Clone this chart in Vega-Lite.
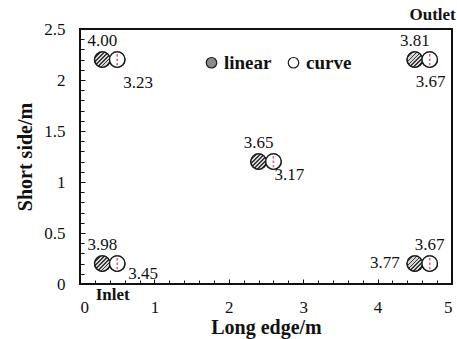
{
  "$schema": "https://vega.github.io/schema/vega-lite/v6.json",
  "width": 372,
  "height": 255,
  "autosize": "none",
  "padding": {"left": 80, "top": 29, "right": 5, "bottom": 55},
  "background": "white",
  "config": {
    "view": {"stroke": "#111", "strokeWidth": 2},
    "font": "Liberation Serif",
    "text": {"font": "Liberation Serif"},
    "legend": {"labelFont": "Liberation Serif"},
    "axis": {"grid": false, "domain": false, "tickColor": "#111", "labelColor": "#111", "titleColor": "#111", "labelFont": "Liberation Serif", "titleFont": "Liberation Serif"}
  },
  "data": {
    "values": [
      {"x": 0.3, "y": 0.2, "series": "linear", "v": "3.98", "pos": "above"},
      {"x": 0.3, "y": 2.2, "series": "linear", "v": "4.00", "pos": "above"},
      {"x": 2.4, "y": 1.2, "series": "linear", "v": "3.65", "pos": "above"},
      {"x": 4.5, "y": 2.2, "series": "linear", "v": "3.81", "pos": "above"},
      {"x": 4.5, "y": 0.2, "series": "linear", "v": "3.77", "pos": "left"},
      {"x": 0.5, "y": 0.2, "series": "curve", "v": "3.45", "pos": "r1"},
      {"x": 0.5, "y": 2.2, "series": "curve", "v": "3.23", "pos": "br"},
      {"x": 2.6, "y": 1.2, "series": "curve", "v": "3.17", "pos": "r2"},
      {"x": 4.7, "y": 2.2, "series": "curve", "v": "3.67", "pos": "below"},
      {"x": 4.7, "y": 0.2, "series": "curve", "v": "3.67", "pos": "above"}
    ]
  },
  "resolve": {"axis": {"x": "independent", "y": "independent"}},
  "layer": [
    {
      "mark": {"type": "point", "shape": "circle", "filled": true, "size": 240, "stroke": "#1a1a1a", "strokeWidth": 1.4, "opacity": 1},
      "encoding": {
        "x": {"field": "x", "type": "quantitative", "scale": {"domain": [0, 5], "nice": false, "zero": false},
          "axis": {"values": [0, 1, 2, 3, 4, 5], "tickSize": -5, "labelPadding": 20, "labelFontSize": 17, "format": "~g", "title": "Long edge/m", "titleFontSize": 20, "titleFontWeight": "bold", "titlePadding": 2, "orient": "bottom"}},
        "y": {"field": "y", "type": "quantitative", "scale": {"domain": [0, 2.5], "nice": false, "zero": false},
          "axis": {"values": [0, 0.5, 1, 1.5, 2, 2.5], "tickSize": -5, "labelPadding": 20, "labelFontSize": 17, "format": "~g", "title": "Short side/m", "titleFontSize": 20, "titleFontWeight": "bold", "titlePadding": 8, "orient": "left"}},
        "fill": {"field": "series", "type": "nominal", "sort": ["linear", "curve"],
          "scale": {"domain": ["linear", "curve"], "range": ["#8a8a8a", "#ffffff"]},
          "legend": {"orient": "none", "legendX": 122, "legendY": 24, "direction": "horizontal", "title": null, "padding": 0,
            "labelFontSize": 19, "labelFontWeight": "bold", "labelColor": "#111",
            "symbolSize": 110, "symbolStrokeColor": "#1a1a1a", "symbolStrokeWidth": 1.2, "symbolType": "circle", "columnPadding": 12, "labelOffset": 3,
            "encode": {"symbols": {"fill": {"value": {"expr": "datum.value === 'linear' ? {gradient: 'linear', x1: 0, y1: 0, x2: 1, y2: 1, stops: [{offset: 0, color: '#d6d6d6'}, {offset: 0.14, color: '#d6d6d6'}, {offset: 0.14, color: '#3a3a3a'}, {offset: 0.22, color: '#3a3a3a'}, {offset: 0.22, color: '#d6d6d6'}, {offset: 0.34, color: '#d6d6d6'}, {offset: 0.34, color: '#3a3a3a'}, {offset: 0.42, color: '#3a3a3a'}, {offset: 0.42, color: '#d6d6d6'}, {offset: 0.54, color: '#d6d6d6'}, {offset: 0.54, color: '#3a3a3a'}, {offset: 0.62, color: '#3a3a3a'}, {offset: 0.62, color: '#d6d6d6'}, {offset: 0.74, color: '#d6d6d6'}, {offset: 0.74, color: '#3a3a3a'}, {offset: 0.82, color: '#3a3a3a'}, {offset: 0.82, color: '#d6d6d6'}, {offset: 1, color: '#d6d6d6'}]} : '#ffffff'"}}}}}}
      }
    },
    {
      "transform": [{"filter": "datum.series === 'linear'"}],
      "mark": {"type": "point", "shape": "circle", "filled": true, "size": 240, "stroke": "#1a1a1a", "strokeWidth": 1.4, "opacity": 1,
        "fill": {"gradient": "linear", "x1": 0, "y1": 0, "x2": 1, "y2": 1, "stops": [
              {"offset": 0, "color": "#d6d6d6"}, {"offset": 0.05, "color": "#d6d6d6"},
              {"offset": 0.05, "color": "#3a3a3a"}, {"offset": 0.1, "color": "#3a3a3a"},
              {"offset": 0.1, "color": "#d6d6d6"}, {"offset": 0.175, "color": "#d6d6d6"},
              {"offset": 0.175, "color": "#3a3a3a"}, {"offset": 0.225, "color": "#3a3a3a"},
              {"offset": 0.225, "color": "#d6d6d6"}, {"offset": 0.3, "color": "#d6d6d6"},
              {"offset": 0.3, "color": "#3a3a3a"}, {"offset": 0.35, "color": "#3a3a3a"},
              {"offset": 0.35, "color": "#d6d6d6"}, {"offset": 0.425, "color": "#d6d6d6"},
              {"offset": 0.425, "color": "#3a3a3a"}, {"offset": 0.475, "color": "#3a3a3a"},
              {"offset": 0.475, "color": "#d6d6d6"}, {"offset": 0.55, "color": "#d6d6d6"},
              {"offset": 0.55, "color": "#3a3a3a"}, {"offset": 0.6, "color": "#3a3a3a"},
              {"offset": 0.6, "color": "#d6d6d6"}, {"offset": 0.675, "color": "#d6d6d6"},
              {"offset": 0.675, "color": "#3a3a3a"}, {"offset": 0.725, "color": "#3a3a3a"},
              {"offset": 0.725, "color": "#d6d6d6"}, {"offset": 0.8, "color": "#d6d6d6"},
              {"offset": 0.8, "color": "#3a3a3a"}, {"offset": 0.85, "color": "#3a3a3a"},
              {"offset": 0.85, "color": "#d6d6d6"}, {"offset": 0.925, "color": "#d6d6d6"},
              {"offset": 0.925, "color": "#3a3a3a"}, {"offset": 0.975, "color": "#3a3a3a"},
              {"offset": 0.975, "color": "#d6d6d6"}, {"offset": 1, "color": "#d6d6d6"}
            ]}},
      "encoding": {"x": {"field": "x", "type": "quantitative", "axis": null}, "y": {"field": "y", "type": "quantitative", "axis": null}}
    },
    {
      "transform": [{"filter": "datum.series === 'curve'"}],
      "mark": {"type": "point", "shape": "circle", "filled": true, "size": 240, "stroke": "#1a1a1a", "strokeWidth": 1.4, "opacity": 1, "fill": "#ffffff"},
      "encoding": {"x": {"field": "x", "type": "quantitative", "axis": null}, "y": {"field": "y", "type": "quantitative", "axis": null}}
    },
    {
      "transform": [{"filter": "datum.series === 'curve'"}],
      "mark": {"type": "point", "shape": "M0,-0.72L0,0.72", "filled": false, "size": 240, "stroke": "#c2185b", "strokeWidth": 1.5, "strokeDash": [2.5, 2]},
      "encoding": {
        "x": {"field": "x", "type": "quantitative", "axis": {"values": [0.2, 0.4, 0.6, 0.8, 1.2, 1.4, 1.6, 1.8, 2.2, 2.4, 2.6, 2.8, 3.2, 3.4, 3.6, 3.8, 4.2, 4.4, 4.6, 4.8], "tickSize": -4, "labels": false, "title": null, "orient": "bottom"}},
        "y": {"field": "y", "type": "quantitative", "axis": {"values": [0.1, 0.2, 0.3, 0.4, 0.6, 0.7, 0.8, 0.9, 1.1, 1.2, 1.3, 1.4, 1.6, 1.7, 1.8, 1.9, 2.1, 2.2, 2.3, 2.4], "tickSize": -4, "labels": false, "title": null, "orient": "left"}}
      }
    },
    {
      "transform": [{"filter": "datum.pos === 'above'"}],
      "mark": {"type": "text", "fontSize": 17, "color": "#111", "align": "center", "baseline": "middle", "dy": -19},
      "encoding": {"x": {"field": "x", "type": "quantitative", "axis": null}, "y": {"field": "y", "type": "quantitative", "axis": null}, "text": {"field": "v"}}
    },
    {
      "transform": [{"filter": "datum.pos === 'left'"}],
      "mark": {"type": "text", "fontSize": 17, "color": "#111", "align": "right", "baseline": "middle", "dx": -15, "dy": -1},
      "encoding": {"x": {"field": "x", "type": "quantitative", "axis": null}, "y": {"field": "y", "type": "quantitative", "axis": null}, "text": {"field": "v"}}
    },
    {
      "transform": [{"filter": "datum.pos === 'r1'"}],
      "mark": {"type": "text", "fontSize": 17, "color": "#111", "align": "left", "baseline": "middle", "dx": 11, "dy": 10},
      "encoding": {"x": {"field": "x", "type": "quantitative", "axis": null}, "y": {"field": "y", "type": "quantitative", "axis": null}, "text": {"field": "v"}}
    },
    {
      "transform": [{"filter": "datum.pos === 'r2'"}],
      "mark": {"type": "text", "fontSize": 17, "color": "#111", "align": "left", "baseline": "middle", "dx": 1, "dy": 13},
      "encoding": {"x": {"field": "x", "type": "quantitative", "axis": null}, "y": {"field": "y", "type": "quantitative", "axis": null}, "text": {"field": "v"}}
    },
    {
      "transform": [{"filter": "datum.pos === 'br'"}],
      "mark": {"type": "text", "fontSize": 17, "color": "#111", "align": "left", "baseline": "middle", "dx": 6, "dy": 23},
      "encoding": {"x": {"field": "x", "type": "quantitative", "axis": null}, "y": {"field": "y", "type": "quantitative", "axis": null}, "text": {"field": "v"}}
    },
    {
      "transform": [{"filter": "datum.pos === 'below'"}],
      "mark": {"type": "text", "fontSize": 17, "color": "#111", "align": "center", "baseline": "middle", "dx": 1, "dy": 22},
      "encoding": {"x": {"field": "x", "type": "quantitative", "axis": null}, "y": {"field": "y", "type": "quantitative", "axis": null}, "text": {"field": "v"}}
    },
    {
      "data": {"values": [
        {"x": 0.44, "y": -0.11, "t": "Inlet"},
        {"x": 4.74, "y": 2.64, "t": "Outlet"}
      ]},
      "mark": {"type": "text", "fontSize": 17, "fontWeight": "bold", "color": "#111", "align": "center", "baseline": "middle"},
      "encoding": {"x": {"field": "x", "type": "quantitative", "axis": null}, "y": {"field": "y", "type": "quantitative", "axis": null}, "text": {"field": "t"}}
    }
  ]
}
